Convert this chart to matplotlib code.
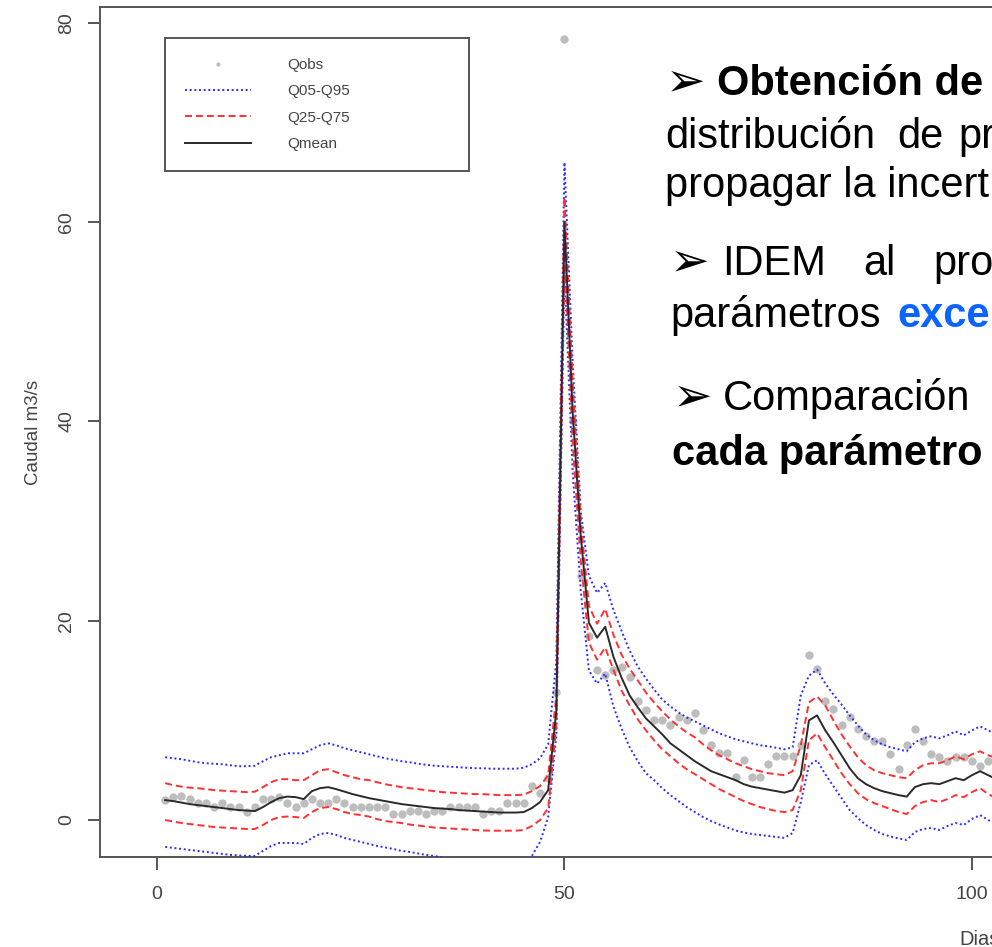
import matplotlib
matplotlib.use("Agg")
import matplotlib.pyplot as plt
from matplotlib.lines import Line2D

plt.rcParams['font.family'] = ['Liberation Sans', 'DejaVu Sans']

# ---------------- data (daily values, days 1..103 visible in the crop) ----------------
days = list(range(1, 104))

q_obs = [2.0, 2.33, 2.4, 2.07, 1.73, 1.73, 1.33, 1.73, 1.33, 1.33,
         0.83, 1.33, 2.07, 2.07, 2.3, 1.73, 1.33, 1.73, 2.07, 1.73,
         1.73, 2.07, 1.73, 1.33, 1.33, 1.33, 1.33, 1.33, 0.6, 0.6,
         0.93, 0.93, 0.6, 0.93, 0.93, 1.33, 1.33, 1.33, 1.33, 0.6,
         0.93, 0.93, 1.73, 1.73, 1.73, 3.4, 2.67, 4.17, 12.9, 78.4,
         40.0, 24.5, 18.5, 15.1, 14.6, 15.1, 15.4, 14.4, 11.9, 11.0,
         10.0, 10.0, 9.5, 10.3, 10.0, 10.7, 9.0, 7.5, 6.7, 6.7,
         4.3, 6.0, 4.3, 4.3, 5.6, 6.4, 6.4, 6.4, 7.5, 16.6,
         15.2, 11.9, 11.1, 9.5, 10.3, 9.1, 8.4, 7.9, 7.9, 6.6,
         5.1, 7.5, 9.1, 7.9, 6.6, 6.3, 5.9, 6.3, 6.3, 5.9,
         5.4, 5.9, 6.3]

q_mean = [2.0, 1.9, 1.75, 1.6, 1.5, 1.4, 1.3, 1.2, 1.1, 1.0,
          0.95, 0.9, 1.3, 1.8, 2.2, 2.35, 2.3, 2.1, 2.9, 3.2,
          3.3, 3.1, 2.85, 2.6, 2.4, 2.2, 2.05, 1.9, 1.75, 1.6,
          1.5, 1.4, 1.3, 1.2, 1.15, 1.1, 1.0, 0.95, 0.9, 0.85,
          0.8, 0.75, 0.75, 0.75, 0.8, 1.2, 1.8, 3.0, 11.0, 60.0,
          41.0, 28.5, 19.8, 18.3, 19.4, 16.4, 14.3, 12.5, 11.3, 10.2,
          9.4, 8.6, 7.7, 7.1, 6.5, 5.9, 5.4, 4.9, 4.6, 4.3,
          4.0, 3.6, 3.35, 3.2, 3.05, 2.9, 2.75, 3.0, 4.5, 10.0,
          10.5, 9.0, 7.8, 6.5, 5.2, 4.2, 3.6, 3.2, 2.9, 2.7,
          2.5, 2.35, 3.3, 3.6, 3.7, 3.6, 3.9, 4.2, 4.0, 4.5,
          4.9, 4.5, 4.1]

q95 = [6.3, 6.2, 6.1, 5.95, 5.8, 5.7, 5.65, 5.6, 5.5, 5.4,
       5.4, 5.45, 5.9, 6.3, 6.5, 6.7, 6.7, 6.7, 7.1, 7.5,
       7.7, 7.5, 7.2, 7.0, 6.8, 6.6, 6.4, 6.2, 6.05, 5.9,
       5.8, 5.65, 5.55, 5.45, 5.4, 5.35, 5.3, 5.25, 5.2, 5.2,
       5.15, 5.15, 5.15, 5.15, 5.25, 5.6, 6.2, 7.6, 16.0, 66.0,
       46.0, 31.0, 24.5, 22.8, 23.8, 21.1, 19.0, 17.0, 15.4, 14.2,
       13.1, 12.1, 11.4, 10.8, 10.3, 9.9, 9.5, 9.1, 8.7, 8.4,
       8.1, 7.9, 7.7, 7.5, 7.4, 7.25, 7.1, 7.3, 12.5, 14.5,
       15.1, 13.7, 12.6, 11.6, 10.5, 9.5, 8.6, 8.0, 7.6, 7.3,
       7.1, 6.9, 7.8, 8.2, 8.4, 8.2, 8.5, 8.9, 8.5, 9.0,
       9.4, 9.0, 8.6]

q75 = [3.7, 3.5, 3.35, 3.25, 3.2, 3.1, 3.0, 2.95, 2.9, 2.85,
       2.8, 2.85, 3.3, 3.8, 4.1, 4.1, 4.0, 4.0, 4.5, 5.0,
       5.1, 4.8, 4.5, 4.3, 4.1, 4.0, 3.8, 3.6, 3.45, 3.3,
       3.2, 3.1, 3.0, 2.9, 2.8, 2.75, 2.7, 2.65, 2.6, 2.6,
       2.55, 2.5, 2.5, 2.5, 2.55, 2.9, 3.4, 4.5, 12.5, 62.5,
       44.0, 30.0, 21.5, 19.7, 21.2, 18.6, 16.6, 15.2, 14.0, 12.8,
       11.8, 10.9, 10.1, 9.4, 8.8, 8.3, 7.6, 7.0, 6.5, 6.1,
       5.7, 5.4, 5.1, 4.9, 4.7, 4.6, 4.5, 4.9, 7.5, 11.8,
       12.4, 11.5, 10.0, 8.6, 7.4, 6.3, 5.5, 5.0, 4.7, 4.5,
       4.3, 4.2, 5.0, 5.5, 5.7, 5.7, 6.0, 6.4, 6.1, 6.6,
       6.9, 6.5, 6.2]

q25 = [0.0, -0.15, -0.3, -0.4, -0.5, -0.6, -0.7, -0.75, -0.8, -0.85,
       -0.9, -0.9, -0.5, 0.0, 0.3, 0.35, 0.3, 0.2, 0.8, 1.2,
       1.3, 1.1, 0.8, 0.6, 0.5, 0.35, 0.1, -0.1, -0.2, -0.3,
       -0.45, -0.55, -0.65, -0.75, -0.8, -0.85, -0.9, -0.95, -1.0, -1.05,
       -1.07, -1.07, -1.07, -1.07, -1.0, -0.6, 0.0, 1.2, 9.5, 57.5,
       38.0, 26.0, 17.8, 16.1, 17.3, 15.1, 13.0, 11.5, 10.1, 9.0,
       8.0, 7.1, 6.4, 5.7, 5.1, 4.6, 4.1, 3.6, 3.1, 2.7,
       2.3, 1.9, 1.6, 1.3, 1.1, 0.9, 0.8, 1.0, 3.0, 8.0,
       8.7, 7.3, 6.0, 4.7, 3.6, 2.7, 2.1, 1.7, 1.4, 1.1,
       0.8, 0.6, 1.4, 1.8, 2.0, 1.8, 2.1, 2.5, 2.3, 2.8,
       3.2, 2.6, 2.2]

q05 = [-2.7, -2.8, -2.9, -3.0, -3.1, -3.2, -3.3, -3.4, -3.5, -3.55,
       -3.6, -3.6, -3.1, -2.6, -2.3, -2.3, -2.3, -2.4, -1.8, -1.4,
       -1.3, -1.5, -1.8, -2.0, -2.2, -2.4, -2.6, -2.75, -2.9, -3.1,
       -3.2, -3.35, -3.5, -3.6, -3.75, -3.85, -3.95, -4.0, -4.1, -4.15,
       -4.2, -4.2, -4.2, -4.2, -4.1, -3.6, -2.2, 0.3, 8.5, 55.0,
       35.0, 23.0, 15.0, 13.7, 14.7, 11.4, 9.2, 7.3, 5.9, 4.7,
       4.0, 3.2, 2.5, 1.9, 1.3, 0.8, 0.3, -0.1, -0.45, -0.75,
       -1.05, -1.25, -1.4, -1.5, -1.6, -1.7, -1.8, -1.3, 1.8, 5.5,
       6.0, 4.6, 3.4, 2.2, 1.0, 0.2, -0.5, -1.0, -1.4, -1.65,
       -1.85, -2.0, -1.2, -0.9, -0.8, -1.0, -0.6, -0.3, -0.5, 0.1,
       0.5, 0.0, -0.4]

legend_labels = ['Qobs', 'Q05-Q95', 'Q25-Q75', 'Qmean']
x_ticks = [0, 50, 100, 150, 200]
y_ticks = [0, 20, 40, 60, 80]

# ---------------- figure ----------------
W, H = 992, 947
fig = plt.figure(figsize=(W / 100, H / 100), dpi=100)
# the original R plot is wider than this crop: axes run past the right edge
ax = fig.add_axes([100 / W, (H - 857) / H, 1765 / W, 850 / H])

txt_col = '#444444'
axis_col = '#555555'
obs_col = '#bdbdbd'
dot_style = dict(color='#2b2bff', lw=1.4, linestyle=(0, (1, 1.4)))
dash_style = dict(color='#ff3030', lw=1.4, linestyle=(0, (3.6, 2.0)))
mean_style = dict(color='#2a2a2a', lw=1.4)

ax.plot(days, q_obs, 'o', color=obs_col, ms=6, mec='none', zorder=2)
ax.plot(days, q05, **dot_style, zorder=3)
ax.plot(days, q95, **dot_style, zorder=3)
ax.plot(days, q25, **dash_style, zorder=4)
ax.plot(days, q75, **dash_style, zorder=4)
ax.plot(days, q_mean, **mean_style, zorder=5)

ax.set_xlim(-7.0, 209.6)
ax.set_ylim(-3.71, 81.6)
ax.set_xticks(x_ticks)
ax.set_yticks(y_ticks)
ax.tick_params(axis='both', length=9, width=1.4, color=axis_col,
               labelcolor=txt_col, labelsize=14)
ax.tick_params(axis='x', pad=12)
ax.tick_params(axis='y', pad=9, labelrotation=90)
plt.setp(ax.get_yticklabels(), va='center')
for s in ax.spines.values():
    s.set_color(axis_col)
    s.set_linewidth(1.4)

ax.set_ylabel('Caudal m3/s', fontsize=13.5, color=txt_col)
ax.yaxis.set_label_coords((42 - 100) / 1765, 0.5)
ax.set_xlabel('Dias', fontsize=14.5, color=txt_col)
ax.xaxis.set_label_coords(0.4985, -(930 - 857) / 850)

handles = [Line2D([], [], marker='o', ls='none', color=obs_col, ms=3, mec='none'),
           Line2D([], [], **dot_style),
           Line2D([], [], **dash_style),
           Line2D([], [], **mean_style)]
leg = ax.legend(handles, legend_labels, loc='upper left',
                bbox_to_anchor=(165 / W, 1 - 171 / H, 304 / W, 133 / H),
                bbox_transform=fig.transFigure, mode='expand', borderaxespad=0,
                fontsize=11, handlelength=4.3, handletextpad=2.4,
                labelspacing=0.81, borderpad=1.3, fancybox=False,
                framealpha=1, edgecolor=axis_col, labelcolor=txt_col)
leg.get_frame().set_linewidth(1.4)

# ---------------- slide text overlaid on the right ----------------
def ftxt(x, y, s, size=30, **kw):
    fig.text(x / W, 1 - y / H, s, fontsize=size, va='baseline', ha='left',
             color=kw.pop('color', 'black'), **kw)

ftxt(666, 95, '➢', size=34)
ftxt(717, 95, 'Obtención de', weight='bold')
ftxt(665, 148, 'distribución')
ftxt(897, 148, 'de')
ftxt(958, 148, 'pr')
ftxt(665, 197, 'propagar la incert')
ftxt(670, 275, '➢', size=34)
ftxt(722, 275, 'IDEM')
ftxt(863, 275, 'al')
ftxt(933, 275, 'pro')
ftxt(670, 327, 'parámetros')
ftxt(897, 327, 'exce', weight='bold', color='#0a64ff')
ftxt(673, 410, '➢', size=34)
ftxt(723, 410, 'Comparación')
ftxt(672, 465, 'cada parámetro', weight='bold')

fig.savefig('out.png', dpi=100)
